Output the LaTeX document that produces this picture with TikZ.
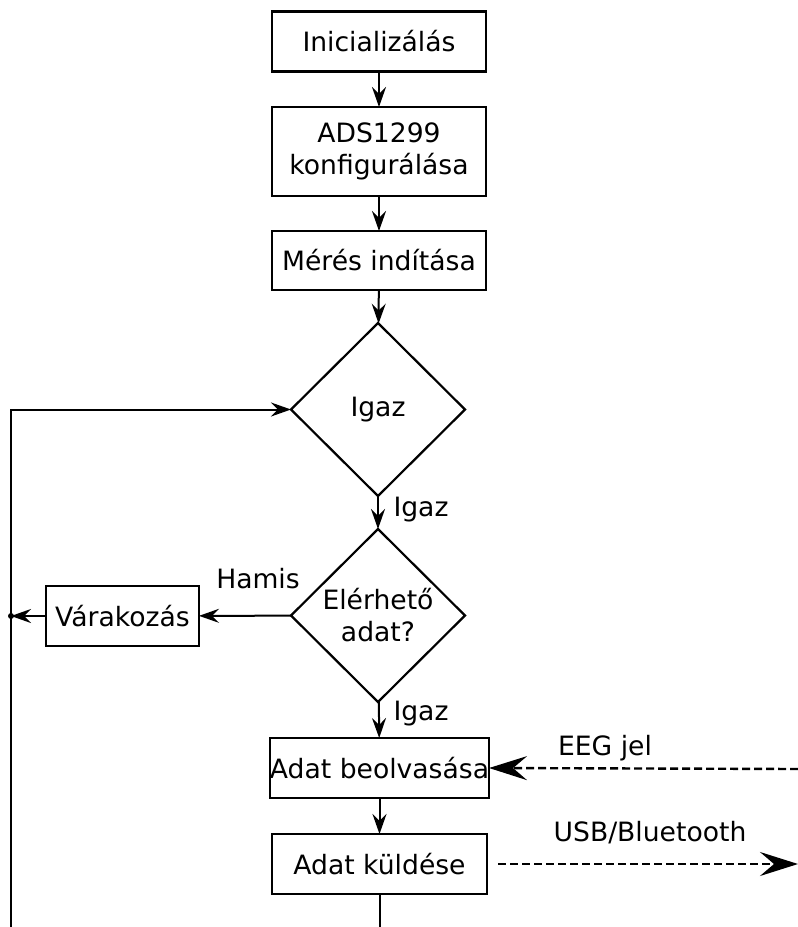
\documentclass[tikz,border=0pt]{standalone}
\usepackage{fontspec}
\setmainfont{DejaVu Sans}
\usetikzlibrary{arrows.meta,shapes.geometric}
\begin{document}
\begin{tikzpicture}[x=1pt,y=-1pt,
  font=\fontsize{26.6}{32}\selectfont,
  box/.style={draw, line width=2.4pt, minimum width=214pt, minimum height=60pt, inner sep=0pt, outer sep=0pt, align=center},
  dia/.style={draw, diamond, line width=2.2pt, minimum width=174pt, minimum height=173pt, inner sep=0pt, outer sep=0pt, align=center},
  conn/.style={line width=2pt, -{Stealth[length=20pt,width=14pt,inset=7pt]}},
  bigconn/.style={line width=2.4pt, dash pattern=on 8pt off 4pt, -{Stealth[length=38pt,width=24pt,inset=14pt]}},
  lbl/.style={inner sep=0pt}]
\useasboundingbox (0,0) rectangle (798,927);
\node[box] (init) at (379,41.5) {Inicializálás};
\node[box, minimum height=89pt] (ads) at (379,151.5) {ADS1299\\konfigurálása};
\node[box, minimum height=59pt] (meres) at (379,260.5) {Mérés indítása};
\node[dia] (d1) at (378,409.5) {Igaz};
\node[dia] (d2) at (378,615.5) {Elérhető\\adat?};
\node[box, minimum width=153pt] (var) at (122.5,616) {Várakozás};
\node[box, minimum width=215pt] (beolv) at (379.5,768) {Adat beolvasása};
\node[box, minimum width=215pt] (kuld) at (379.5,864) {Adat küldése};
\coordinate (bl) at (11,927);
\coordinate (tl) at (11,409.5);
\coordinate (jn) at (11,616);
\coordinate (bot) at (379.5,927);
\coordinate (eegs) at (798,769);
\coordinate (usbs) at (498,864);
\coordinate (usbe) at (798,864);
\draw[conn] (init) -- (ads);
\draw[conn] (ads) -- (meres);
\draw[conn] (meres) -- (d1);
\draw[conn] (d1) -- (d2);
\draw[conn] (d2) -- (var);
\draw[conn] (var) -- (jn);
\draw[conn] (bl) -- (tl) -- (d1.west);
\fill (jn) circle (3pt);
\draw[conn] (d2) -- (beolv);
\draw[conn] (beolv) -- (kuld);
\draw[line width=2pt] (kuld) -- (bot);
\draw[bigconn] (eegs) -- (beolv.east);
\draw[bigconn] (usbs) -- (usbe);
\node[lbl] (l1) at (421,510) {Igaz};
\node[lbl] (l2) at (421,714) {Igaz};
\node[lbl] (l3) at (258,579) {Hamis};
\node[lbl] (l4) at (605,748) {EEG jel};
\node[lbl] (l5) at (650,833) {USB/Bluetooth};
\end{tikzpicture}
\end{document}
